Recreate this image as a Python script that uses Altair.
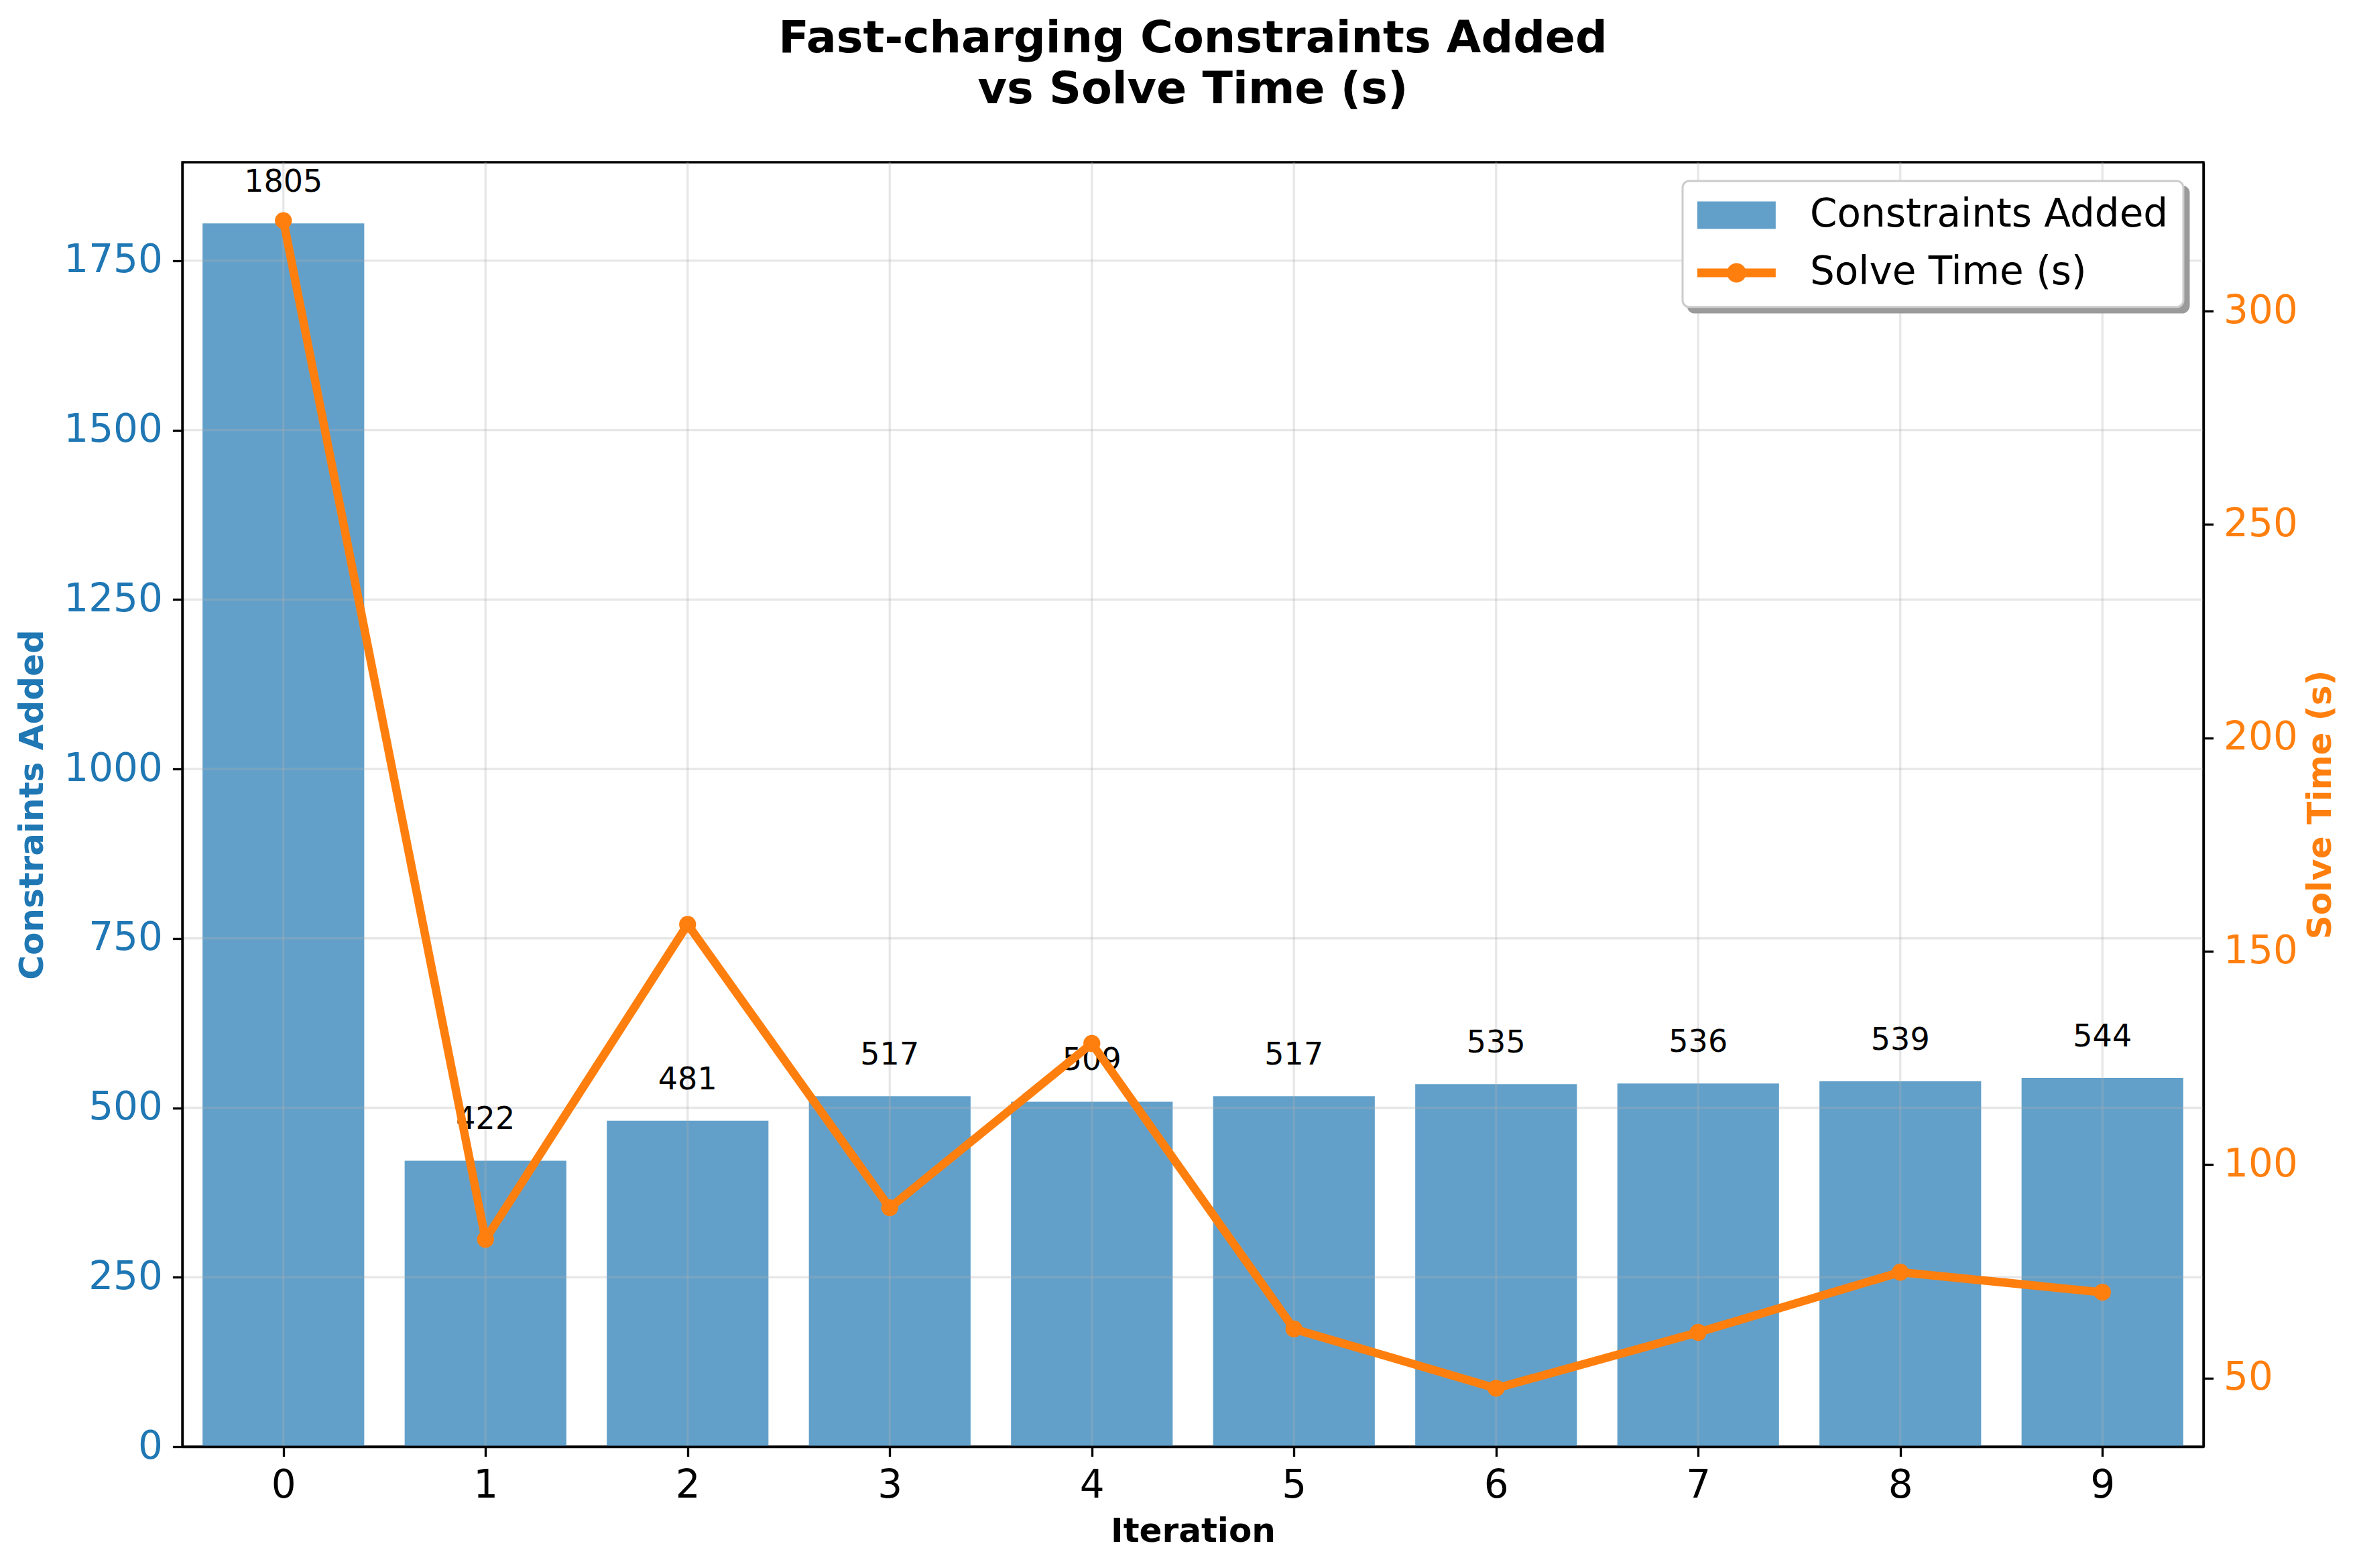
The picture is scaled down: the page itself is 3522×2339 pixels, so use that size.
import altair as alt
import pandas as pd

# ---------------- data ----------------
iterations = [0, 1, 2, 3, 4, 5, 6, 7, 8, 9]
constraints_added = [1805, 422, 481, 517, 509, 517, 535, 536, 539, 544]
solve_time_s = [321.2, 82.5, 156.3, 89.9, 128.4, 61.5, 47.6, 60.7, 74.8, 70.1]
series_names = ["Constraints Added", "Solve Time (s)"]
left_ticks = [0, 250, 500, 750, 1000, 1250, 1500, 1750]
right_ticks = [50, 100, 150, 200, 250, 300]
title_lines = ["Fast-charging Constraints Added", "vs Solve Time (s)"]

# ---------------- style ----------------
BLUE = "#1f77b4"
BLUE_SOFT = "#62a0ca"
ORANGE = "#ff7f0e"
GRID = "#b0b0b0"
SHADOW = "#9a9a9a"
FONT = "DejaVu Sans"
W, H = 3015, 1916
LW = 3.33

df = pd.DataFrame({
    "iteration": iterations,
    "constraints": constraints_added,
    "solve": solve_time_s,
})
legend_df = pd.DataFrame({"series": series_names})
shadow_names = [s + "\u200b" for s in series_names]
shadow_df = pd.DataFrame({"series_shadow": shadow_names})
hgrid_df = pd.DataFrame({"gy": left_ticks})
vgrid_df = pd.DataFrame({"gx": iterations})

c_max = max(constraints_added)
s_min, s_max = min(solve_time_s), max(solve_time_s)
s_pad = 0.05 * (s_max - s_min)

x_scale = alt.Scale(domain=[-0.5, 9.5], nice=False, zero=False)
yl_scale = alt.Scale(domain=[0, c_max * 1.05], nice=False, zero=False)
yr_scale = alt.Scale(domain=[s_min - s_pad, s_max + s_pad], nice=False, zero=False)

x_axis = alt.Axis(values=iterations, title="Iteration", titleColor="black",
                  labelColor="black", grid=False, titlePadding=14, zindex=1)
yl_axis = alt.Axis(orient="left", values=left_ticks, title="Constraints Added",
                   titleColor=BLUE, labelColor=BLUE, grid=False, titlePadding=21,
                   zindex=1)
yr_axis = alt.Axis(orient="right", values=right_ticks, title="Solve Time (s)",
                   titleColor=ORANGE, labelColor=ORANGE, titleAngle=270,
                   titleBaseline="top", grid=False, titlePadding=9, zindex=1)

base = alt.Chart(df)

bars = base.transform_calculate(
    x_lo="datum.iteration - 0.4", x_hi="datum.iteration + 0.4"
).mark_bar(color=BLUE, opacity=0.7).encode(
    x=alt.X("x_lo:Q", scale=x_scale, axis=x_axis),
    x2="x_hi:Q",
    y=alt.Y("constraints:Q", scale=yl_scale, axis=yl_axis),
    y2=alt.datum(0),
)

# grid lines (drawn above the bars, below the line) from the tick arrays
hgrid = alt.Chart(hgrid_df).mark_rule(color=GRID, opacity=0.3, strokeWidth=LW).encode(
    y=alt.Y("gy:Q", scale=yl_scale, axis=yl_axis),
)
vgrid = alt.Chart(vgrid_df).mark_rule(color=GRID, opacity=0.3, strokeWidth=LW).encode(
    x=alt.X("gx:Q", scale=x_scale, axis=x_axis),
)

bar_labels = base.mark_text(
    font=FONT, fontSize=46, color="black", baseline="alphabetic",
    align="center", dy=-47,
).encode(
    x=alt.X("iteration:Q", scale=x_scale, axis=x_axis),
    y=alt.Y("constraints:Q", scale=yl_scale, axis=yl_axis),
    text=alt.Text("constraints:Q", format="d"),
)

line = base.mark_line(color=ORANGE, strokeWidth=12.5, strokeJoin="round").encode(
    x=alt.X("iteration:Q", scale=x_scale, axis=x_axis),
    y=alt.Y("solve:Q", scale=yr_scale, axis=yr_axis),
)

points = base.mark_circle(color=ORANGE, size=640, opacity=1).encode(
    x=alt.X("iteration:Q", scale=x_scale, axis=x_axis),
    y=alt.Y("solve:Q", scale=yr_scale, axis=yr_axis),
)

# legend symbols (custom paths): a bar swatch and a line-with-marker swatch
rect_path = "M-1,-0.707H3.03V0.707H-1Z"
line_path = ("M-1,-0.224H3.03V0.224H-1Z "
             "M1.015,-0.5A0.5,0.5 0 1,1 1.015,0.5A0.5,0.5 0 1,1 1.015,-0.5Z")

LEG_X, LEG_Y, SH_OFF = 2238, 28, 8
leg_common = dict(
    title=None, orient="none", padding=22, cornerRadius=10,
    symbolSize=3364, symbolStrokeWidth=0, labelFont=FONT, labelFontSize=58,
    rowPadding=28, labelLimit=2000,
)
leg = alt.Legend(
    legendX=LEG_X, legendY=LEG_Y, fillColor="white", strokeColor="#cccccc",
    symbolOpacity=1, labelColor="black", labelOffset=110, zindex=2,
    **leg_common,
)
# shadow box behind the legend: same height, empty labels, width kept by the offset
shadow_leg = alt.Legend(
    legendX=LEG_X + SH_OFF, legendY=LEG_Y + SH_OFF, fillColor=SHADOW,
    strokeColor=SHADOW, symbolOpacity=0, labelExpr="''", labelOffset=645,
    zindex=1, **leg_common,
)

shadow_layer = alt.Chart(shadow_df).transform_filter("false").mark_point(
    filled=True, opacity=1
).encode(
    fill=alt.Fill("series_shadow:N", scale=alt.Scale(domain=shadow_names, range=[SHADOW, SHADOW]), legend=shadow_leg),
)

legend_layer = alt.Chart(legend_df).transform_filter("false").mark_point(
    filled=True, opacity=1
).encode(
    color=alt.Color("series:N", scale=alt.Scale(domain=series_names, range=[BLUE_SOFT, ORANGE]), legend=leg),
    shape=alt.Shape("series:N", scale=alt.Scale(domain=series_names, range=[rect_path, line_path]), legend=leg),
)

left = alt.layer(bars, hgrid, vgrid, bar_labels)
right = alt.layer(line, points)

chart = alt.layer(left, right, shadow_layer, legend_layer).resolve_scale(
    y="independent"
).properties(
    width=W, height=H,
    padding={"left": 264, "top": 234, "right": 220, "bottom": 160},
    autosize=alt.AutoSizeParams(type="none"),
    title=alt.TitleParams(
        text=title_lines, font=FONT, fontSize=66.7, fontWeight="bold",
        color="black", anchor="middle", offset=73, lineHeight=76,
    ),
).configure(
    background="white"
).configure_view(
    stroke="black", strokeWidth=LW
).configure_axis(
    labelFont=FONT, labelFontSize=58, titleFont=FONT, titleFontSize=50,
    titleFontWeight="bold", tickColor="black", tickWidth=LW, tickSize=14.6,
    domainColor="black", domainWidth=LW, labelPadding=15,
    labelFlush=False, labelOverlap=False, format="d",
).configure_legend(
    strokeWidth=3
)

chart.save("out.html", embed_options={"renderer": "svg", "actions": False})
